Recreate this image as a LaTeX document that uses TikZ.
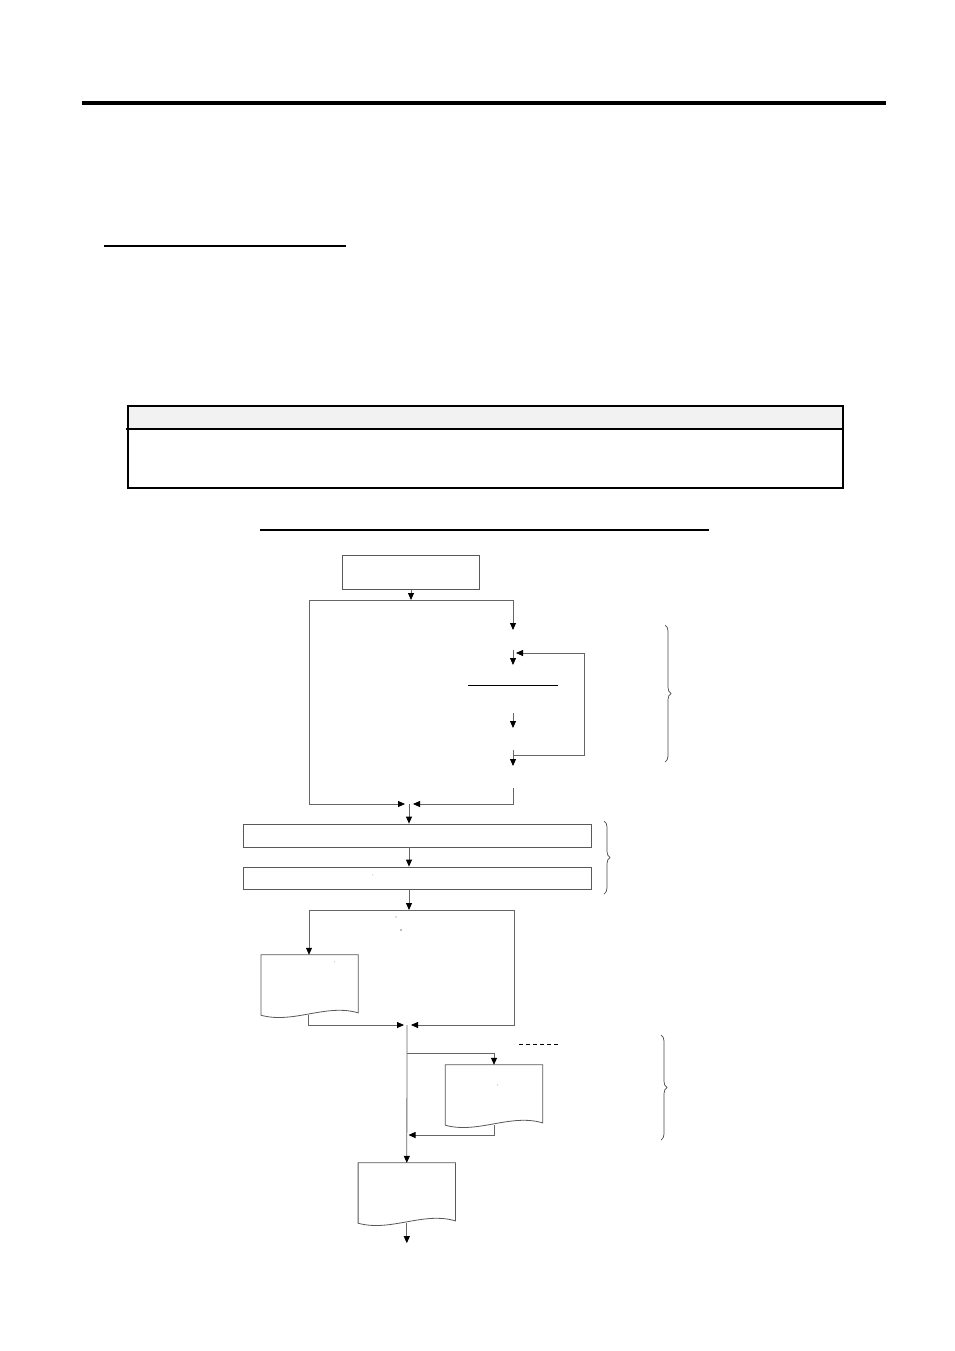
\documentclass[tikz,border=0pt]{standalone}
\usetikzlibrary{arrows.meta,calc,decorations.pathreplacing}
\newcommand\docshape[1]{\draw[docline] (#1.south west) -- (#1.north west) -- (#1.north east) -- ([yshift=2.3pt]#1.south east) .. controls ([xshift=-32pt,yshift=12pt]#1.south east) and ([xshift=-65pt,yshift=-9pt]#1.south east) .. (#1.south west) -- cycle;}
\begin{document}
\begin{tikzpicture}[x=1pt,y=-1pt,
  flow/.style={draw=black!60,line width=0.8pt},
  arr/.style={flow,-{Triangle[length=7pt,width=6pt,color=black]}},
  box/.style={draw=black!65,line width=0.8pt,inner sep=0pt},
  docn/.style={inner sep=0pt,minimum width=97pt,minimum height=60pt},
  docline/.style={draw=black!65,line width=0.8pt},
  brc/.style={draw=black!70,line width=0.7pt,decorate,decoration={brace,amplitude=6pt}},
  tinymark/.style={font=\fontsize{4}{4}\selectfont,inner sep=0pt}]
\useasboundingbox (0,0) rectangle (954,1351);
\fill[white] (0,0) rectangle (954,1351);

% page rules
\draw[line width=3.5pt] (82,103) -- (886,103);
\draw[line width=1.4pt] (104,246) -- (346,246);

% table
\fill[black!5] (128,406) rectangle (843,429);
\node[draw,line width=1.3pt,inner sep=0pt,minimum width=715pt,minimum height=82pt] (tbl) at (485.5,447) {};
\draw[line width=1.1pt] (126,429) -- (843,429);
\draw[line width=1.2pt] (260,530) -- (709,530);

% flowchart nodes
\node[box,minimum width=137pt,minimum height=34pt] (s) at (411,572) {};
\node[box,minimum width=348pt,minimum height=23pt] (b1) at (417,835.5) {};
\node[box,minimum width=348pt,minimum height=22pt] (b2) at (417,878) {};
\node[docn] (d1) at (309.6,985) {};
\node[docn] (d2) at (494,1095) {};
\node[docn] (d3) at (406.8,1193) {};
\docshape{d1}
\docshape{d2}
\docshape{d3}

% coordinates
\coordinate (j1) at (411,600);
\coordinate (jl1) at (309,600);
\coordinate (jl2) at (309,804);
\coordinate (jr1) at (513,600);
\coordinate (a1) at (513,630);
\coordinate (a2s) at (513,650);
\coordinate (a2e) at (513,665);
\coordinate (lp1) at (513,755);
\coordinate (lp2) at (584,755);
\coordinate (lp3) at (584,653);
\coordinate (lp4) at (516,653);
\coordinate (a3s) at (513,713);
\coordinate (a3e) at (513,728);
\coordinate (a4s) at (513,750);
\coordinate (a4e) at (513,766);
\coordinate (a5s) at (513,788);
\coordinate (jr2) at (513,804);
\coordinate (m1l) at (405,804);
\coordinate (m1r) at (413,804);
\coordinate (m1) at (409,804);
\coordinate (j2) at (409,910);
\coordinate (jl3) at (309,910);
\coordinate (jr3) at (514,910);
\coordinate (jr4) at (514,1025);
\coordinate (m2r) at (411,1025);
\coordinate (m2l) at (404,1025);
\coordinate (m2) at (407,1025);
\coordinate (br) at (407,1053);
\coordinate (br2) at (494,1053);
\coordinate (m3) at (408.5,1135);
\coordinate (ul1) at (468,685);
\coordinate (ul2) at (558,685);
\coordinate (ds1) at (519,1044);
\coordinate (ds2) at (560,1044);

% connectors
\draw[arr] (s.south) -- (j1);
\draw[flow] (j1) -- (jl1) -- (jl2);
\draw[arr] (jl2) -- (m1l);
\draw[arr] (j1) -- (jr1) -- (a1);
\draw[arr] (a2s) -- (a2e);
\draw[arr] (lp1) -- (lp2) -- (lp3) -- (lp4);
\draw[black,line width=0.9pt] (ul1) -- (ul2);
\draw[arr] (a3s) -- (a3e);
\draw[arr] (a4s) -- (a4e);
\draw[arr] (a5s) -- (jr2) -- (m1r);
\draw[arr] (m1) -- (m1 |- b1.north);
\draw[arr] (b1.south -| m1) -- (b2.north -| m1);
\draw[arr] (b2.south -| m1) -- (j2);
\draw[flow] (j2) -- (jl3);
\draw[arr] (jl3) -- (jl3 |- d1.north);
\draw[arr] (j2) -- (jr3) -- (jr4) -- (m2r);
\draw[arr] ([xshift=-1pt]d1.south) |- (m2l);
\draw[arr] (m2) -- (d3.north);
\draw[arr] (br) -- (br2) -- (d2.north);
\draw[arr] (d2.south) |- (m3);
\draw[arr] (d3.south) -- ++(0,20);
\draw[black,line width=0.8pt,dash pattern=on 4pt off 3pt] (ds1) -- (ds2);

% small marks
\node[tinymark] (t1) at (373,876) {'};
\node[tinymark] (t2) at (396,918) {``};
\node[tinymark] (t3) at (401,931) {»};
\node[tinymark] (t4) at (335,963) {'};
\node[tinymark] (t5) at (497.5,1086) {,};

% braces
\draw[brc] (665,625) -- (665,762);
\draw[brc] (604,821) -- (604,894);
\draw[brc] (661,1035) -- (661,1140);
\end{tikzpicture}
\end{document}
